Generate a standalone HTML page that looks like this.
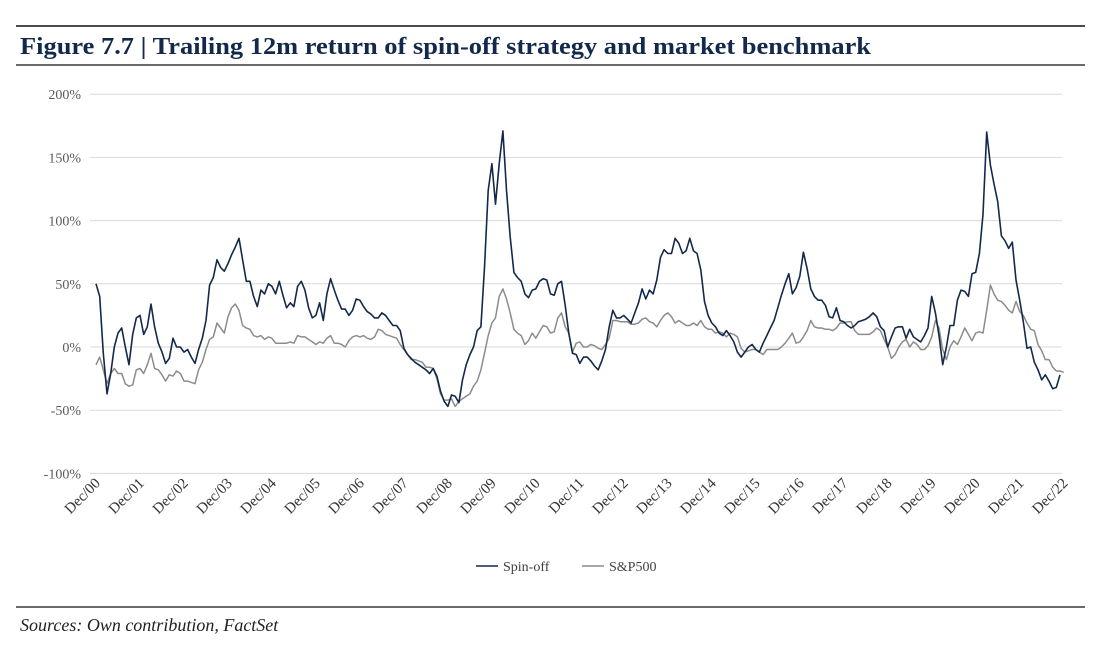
<!DOCTYPE html>
<html><head><meta charset="utf-8"><style>
body{margin:0;background:#fff;}
svg{display:block;font-family:"Liberation Serif",serif;}
</style></head><body>
<svg id="chart" width="1100" height="652" viewBox="0 0 1100 652">
<line x1="16" y1="26" x2="1085" y2="26" stroke="#111" stroke-width="1.5"/>
<text x="20" y="54" font-size="24" font-weight="bold" fill="#13294b" textLength="851" lengthAdjust="spacingAndGlyphs">Figure 7.7 | Trailing 12m return of spin-off strategy and market benchmark</text>
<line x1="16" y1="65" x2="1085" y2="65" stroke="#111" stroke-width="1.2"/>
<g id="grid"></g><g id="yax"></g><g id="xax"></g><g id="series"></g>
<g>
<line x1="476" y1="566" x2="498" y2="566" stroke="#13294b" stroke-width="1.6"/>
<text x="503" y="571" font-size="14" fill="#404040">Spin-off</text>
<line x1="582" y1="566" x2="604" y2="566" stroke="#8c8c8c" stroke-width="1.6"/>
<text x="609" y="571" font-size="14" fill="#404040">S&amp;P500</text>
</g>
<line x1="16" y1="607" x2="1085" y2="607" stroke="#111" stroke-width="1.2"/>
<text x="20" y="631" font-size="18" font-style="italic" fill="#222">Sources: Own contribution, FactSet</text>
</svg>
<script>
const yTicks=[200,150,100,50,0,-50,-100];
const yTickLabels=["200%","150%","100%","50%","0%","-50%","-100%"];
const xTickLabels=["Dec/00","Dec/01","Dec/02","Dec/03","Dec/04","Dec/05","Dec/06","Dec/07","Dec/08","Dec/09","Dec/10","Dec/11","Dec/12","Dec/13","Dec/14","Dec/15","Dec/16","Dec/17","Dec/18","Dec/19","Dec/20","Dec/21","Dec/22"];
const spinoff=[50,40,-5,-37,-21,0,11,15,0,-14,10,23,25,10,16,34,16,3,-4,-13,-9,7,0,0,-4,-2,-8,-13,-2,7,21,49,55,69,63,60,66,73,79,86,69,52,52,40,32,45,42,50,48,42,52,41,31,35,32,48,52,45,31,23,25,35,21,42,54,45,37,30,30,
25,29,38,37,32,28,26,23,23,27,25,21,17,17,13,-1,-6,-9,-12,-14,-16,-18,-21,-17,-23,-35,-43,-47,-38,-39,-44,-26,-14,-6,0,13,16,63,124,145,113,145,171,124,87,59,55,52,42,39,45,46,52,54,53,42,41,50,52,33,11,-5,-6,
-13,-8,-8,-11,-15,-18,-11,-2,16,29,23,23,25,22,19,27,35,46,38,45,42,53,71,77,74,74,86,82,74,76,86,76,74,61,36,25,19,16,11,9,13,9,4,-4,-8,-4,0,2,-2,-4,3,9,15,21,31,41,50,58,42,47,56,75,62,46,40,37,
37,33,24,23,31,21,20,17,15,17,20,21,22,24,27,24,16,13,0,8,15,16,16,7,14,8,6,4,9,15,40,27,9,-14,0,17,17,37,45,44,40,58,59,74,105,170,144,129,115,88,84,78,83,53,37,20,-1,0,-12,-18,-26,-22,-27,-33,-32,-22];
const sp500=[-14,-8,-18,-29,-21,-17,-21,-21,-29,-31,-30,-18,-17,-21,-14,-5,-17,-18,-22,-27,-22,-23,-19,-21,-27,-27,-28,-29,-18,-12,-2,6,8,19,15,11,24,31,34,29,17,15,14,9,8,9,6,8,7,3,3,3,3,4,3,9,8,8,6,4,2,4,3,7,9,3,3,2,0,
5,8,9,8,9,7,6,8,14,13,10,9,8,7,2,-2,-6,-10,-10,-11,-12,-16,-16,-17,-25,-37,-42,-42,-41,-47,-43,-41,-39,-37,-31,-27,-18,-5,9,19,23,40,46,38,27,14,11,9,2,5,11,7,12,17,16,11,12,23,27,16,11,-4,3,4,
0,0,2,1,-1,-2,2,7,21,21,20,20,20,18,18,19,22,23,20,19,16,21,25,27,24,19,21,19,17,17,19,17,21,16,14,14,11,12,11,8,11,10,8,-1,-4,-3,-2,-2,-4,-6,-2,-2,-2,-2,0,3,7,11,3,4,8,13,21,16,15,15,
14,14,13,15,19,19,20,20,13,10,10,10,10,12,15,13,6,0,-9,-6,0,4,6,0,4,2,-2,-2,1,8,21,15,-2,-10,0,5,2,8,15,10,5,11,12,11,29,49,42,37,36,33,29,27,36,28,25,19,14,13,2,-3,-10,-10,-16,-19,-19,-20];
const NS="http://www.w3.org/2000/svg";
const X0=96,X1=1060,Y0=347,PX=63.2/50;
const nPts=spinoff.length;
function xScale(i){return X0+(X1-X0)*i/(nPts-1);}
function yScale(v){return Y0-v*PX;}
function mk(tag,attrs,parent){const e=document.createElementNS(NS,tag);for(const k in attrs)e.setAttribute(k,attrs[k]);parent.appendChild(e);return e;}
const grid=document.getElementById('grid'),yax=document.getElementById('yax'),xax=document.getElementById('xax'),ser=document.getElementById('series');
yTicks.forEach((t,k)=>{
 const l=mk('line',{x1:90,x2:1062,y1:yScale(t),y2:yScale(t),stroke:'#d9d9d9','stroke-width':1},grid);
 
 
 const tx=mk('text',{x:81,y:yScale(t)+5,'text-anchor':'end','font-size':14,fill:'#595959'},yax);
 
 
 tx.textContent=yTickLabels[k];
});
xTickLabels.forEach((s,k)=>{
 const x=xScale(k*12);
 const tx=mk('text',{x:x+5,y:484,'text-anchor':'end','font-size':15,fill:'#333',transform:`rotate(-45 ${x+5} 484)`},xax);
 
 
 tx.textContent=s;
});
function path(arr){return arr.map((v,i)=>(i?'L':'M')+xScale(i).toFixed(1)+','+yScale(v).toFixed(1)).join('');}
const p2=mk('path',{d:path(sp500),fill:'none',stroke:'#8c8c8c','stroke-width':1.5,'stroke-linejoin':'round'},ser);


const p1=mk('path',{d:path(spinoff),fill:'none',stroke:'#13294b','stroke-width':1.6,'stroke-linejoin':'round'},ser);


</script>
</body></html>
